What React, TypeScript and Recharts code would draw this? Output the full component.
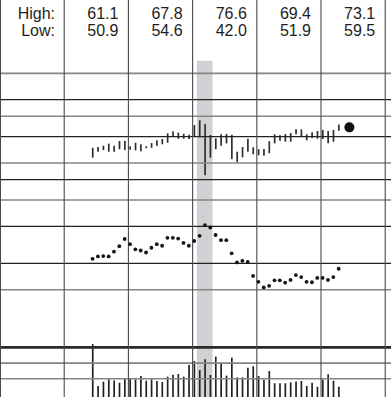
import React from 'react';
import {
  ComposedChart,
  Bar,
  Scatter,
  XAxis,
  YAxis,
  ReferenceLine,
  ReferenceArea,
} from 'recharts';

const W = 391;
const H = 397;

// Header: yearly high / low
const periodHigh = [61.1, 67.8, 76.6, 69.4, 73.1];
const periodLow = [50.9, 54.6, 42.0, 51.9, 59.5];

// Monthly price ranges (high / low)
const highs = [
  56.7, 57.2, 58.0, 59.3, 58.0, 61.0, 61.1,
  57.6, 59.9, 58.9, 57.6, 59.7, 61.5, 62.4, 66.4, 67.8, 66.9, 66.1, 65.4,
  72.7, 76.6, 73.5, 65.2, 62.9, 65.7, 65.9, 65.4, 54.3, 57.2, 62.6, 57.0,
  55.8, 55.9, 60.9, 65.7, 65.0, 65.9, 66.6, 69.4, 69.3, 65.7, 67.2, 68.1,
  68.9, 68.1, 68.9, 73.1,
];
const lows = [
  50.9, 54.3, 55.3, 54.3, 54.3, 55.8, 55.3,
  55.5, 55.1, 54.6, 56.4, 56.7, 58.0, 58.9, 59.9, 64.0, 62.6, 62.6, 62.4,
  64.0, 63.6, 42.0, 50.9, 55.8, 58.0, 59.5, 50.1, 48.5, 51.1, 54.3, 52.8,
  52.2, 51.9, 53.4, 59.5, 61.3, 60.6, 60.6, 65.7, 64.5, 61.5, 63.1, 62.6,
  62.4, 59.5, 60.6, 68.3,
];

// Relative price strength
const relStrength = [
  34.8, 35.4, 35.5, 35.4, 36.6, 38.0, 39.8,
  38.5, 37.2, 36.9, 36.4, 37.6, 38.5, 38.1, 40.1, 40.1, 39.9, 38.8, 38.1,
  39.3, 40.6, 43.3, 42.7, 40.8, 39.5, 39.5, 36.2, 33.9, 34.3, 34.0, 30.5,
  29.0, 27.6, 28.0, 29.4, 29.4, 28.8, 29.5, 30.7, 30.2, 29.0, 28.9, 30.0,
  30.0, 29.5, 30.2, 32.3,
];

// Volume
const volume = [
  3.2, 0.67, 0.93, 1.07, 0.99, 0.86, 1.09,
  1.13, 1.07, 1.27, 0.99, 1.07, 0.97, 0.91, 1.23, 1.35, 1.39, 1.23, 1.93,
  2.18, 1.63, 2.28, 1.33, 2.44, 2.0, 1.29, 2.38, 1.19, 1.19, 1.77, 1.86,
  1.27, 1.05, 1.57, 0.83, 0.83, 0.83, 0.89, 0.93, 0.97, 0.67, 0.86, 0.62,
  1.05, 1.37, 0.99, 0.62,
];

const lastPrice = 70.9;

const majorPriceGrid = [96, 64, 40, 24, 16];
const minorPriceGrid = [128, 80, 48, 32, 12];
const volumeGrid = [1.1, 2.05];
const volumeRule = 3.0;
const columnLines = [0, 12, 24, 36, 48, 60, 72];
const X_MAX = 73.08;
const FIRST_X = 17.3;
const shadeX = [36.8, 39.72];
const shadeTop = 147;
const PRICE_DOMAIN: [number, number] = [3.71, 285.6];

const data = highs.map((h, i) => ({
  x: FIRST_X + i,
  range: [lows[i], h],
  vol: volume[i],
}));
const rsData = relStrength.map((v, i) => ({ x: FIRST_X + i, rs: v }));
const lastData = [{ x: FIRST_X + highs.length + 1, price: lastPrice }];

const colWidth = W / (X_MAX / 12);

const SmallDot = (props: any) => (
  <circle cx={props.cx} cy={props.cy} r={1.9} fill="#151515" />
);
const BigDot = (props: any) => (
  <circle cx={props.cx} cy={props.cy} r={5} fill="#111" />
);

export default function App() {
  const font = '"Liberation Sans", Arial, Helvetica, sans-serif';
  return (
    <div style={{ position: 'absolute', left: 0, top: 0, width: W, height: H, background: '#fff' }}>
      <ComposedChart
        width={W}
        height={H}
        data={data}
        margin={{ top: 0, right: 0, bottom: 0, left: 0 }}
      >
        <XAxis xAxisId="a" type="number" dataKey="x" domain={[0, X_MAX]} allowDataOverflow hide />
        <XAxis xAxisId="b" type="number" dataKey="x" domain={[0, X_MAX]} allowDataOverflow hide />
        <YAxis yAxisId="price" type="number" scale="log" domain={PRICE_DOMAIN} allowDataOverflow hide />
        <YAxis yAxisId="rs" type="number" domain={[0, 100]} allowDataOverflow hide />
        <YAxis yAxisId="vol" type="number" domain={[0, 24]} allowDataOverflow hide />

        <ReferenceArea
          xAxisId="a"
          yAxisId="price"
          x1={shadeX[0]}
          x2={shadeX[1]}
          y1={PRICE_DOMAIN[0]}
          y2={shadeTop}
          fill="#d0d1d4"
          fillOpacity={1}
          stroke="none"
          ifOverflow="visible"
        />

        {minorPriceGrid.map((p) => (
          <ReferenceLine key={'mi' + p} xAxisId="a" yAxisId="price" y={p} stroke="#858585" strokeWidth={1.6} />
        ))}
        {majorPriceGrid.map((p) => (
          <ReferenceLine key={'ma' + p} xAxisId="a" yAxisId="price" y={p} stroke="#222" strokeWidth={1.3} />
        ))}
        {volumeGrid.map((v) => (
          <ReferenceLine key={'vg' + v} xAxisId="b" yAxisId="vol" y={v} stroke="#858585" strokeWidth={1.6} />
        ))}
        <ReferenceLine xAxisId="b" yAxisId="vol" y={volumeRule} stroke="#2a2a2a" strokeWidth={2.8} />
        {columnLines.map((c) => (
          <ReferenceLine key={'c' + c} xAxisId="a" yAxisId="price" x={c} stroke="#4a4a4a" strokeWidth={c === 0 ? 2 : 1.1} />
        ))}

        <Bar xAxisId="a" yAxisId="price" dataKey="range" barSize={1.7} fill="#2e2e2e" isAnimationActive={false} />
        <Bar xAxisId="b" yAxisId="vol" dataKey="vol" barSize={1.7} fill="#23231d" isAnimationActive={false} />
        <Scatter
          xAxisId="a"
          yAxisId="rs"
          data={rsData}
          dataKey="rs"
          shape={SmallDot}
          isAnimationActive={false}
        />
        <Scatter
          xAxisId="a"
          yAxisId="price"
          data={lastData}
          dataKey="price"
          shape={BigDot}
          isAnimationActive={false}
        />
      </ComposedChart>
      <svg
        width={W}
        height={H}
        style={{ position: 'absolute', left: 0, top: 0, pointerEvents: 'none' }}
      >
        <g fontFamily={font} fontSize={16} fill="#1e1e1e" textAnchor="end">
          <text x={55} y={19}>High:</text>
          <text x={55} y={36}>Low:</text>
          {periodHigh.map((v, k) => (
            <text key={'h' + k} x={colWidth * (k + 2) - 10} y={19}>{v.toFixed(1)}</text>
          ))}
          {periodLow.map((v, k) => (
            <text key={'l' + k} x={colWidth * (k + 2) - 10} y={36}>{v.toFixed(1)}</text>
          ))}
        </g>
      </svg>
    </div>
  );
}
